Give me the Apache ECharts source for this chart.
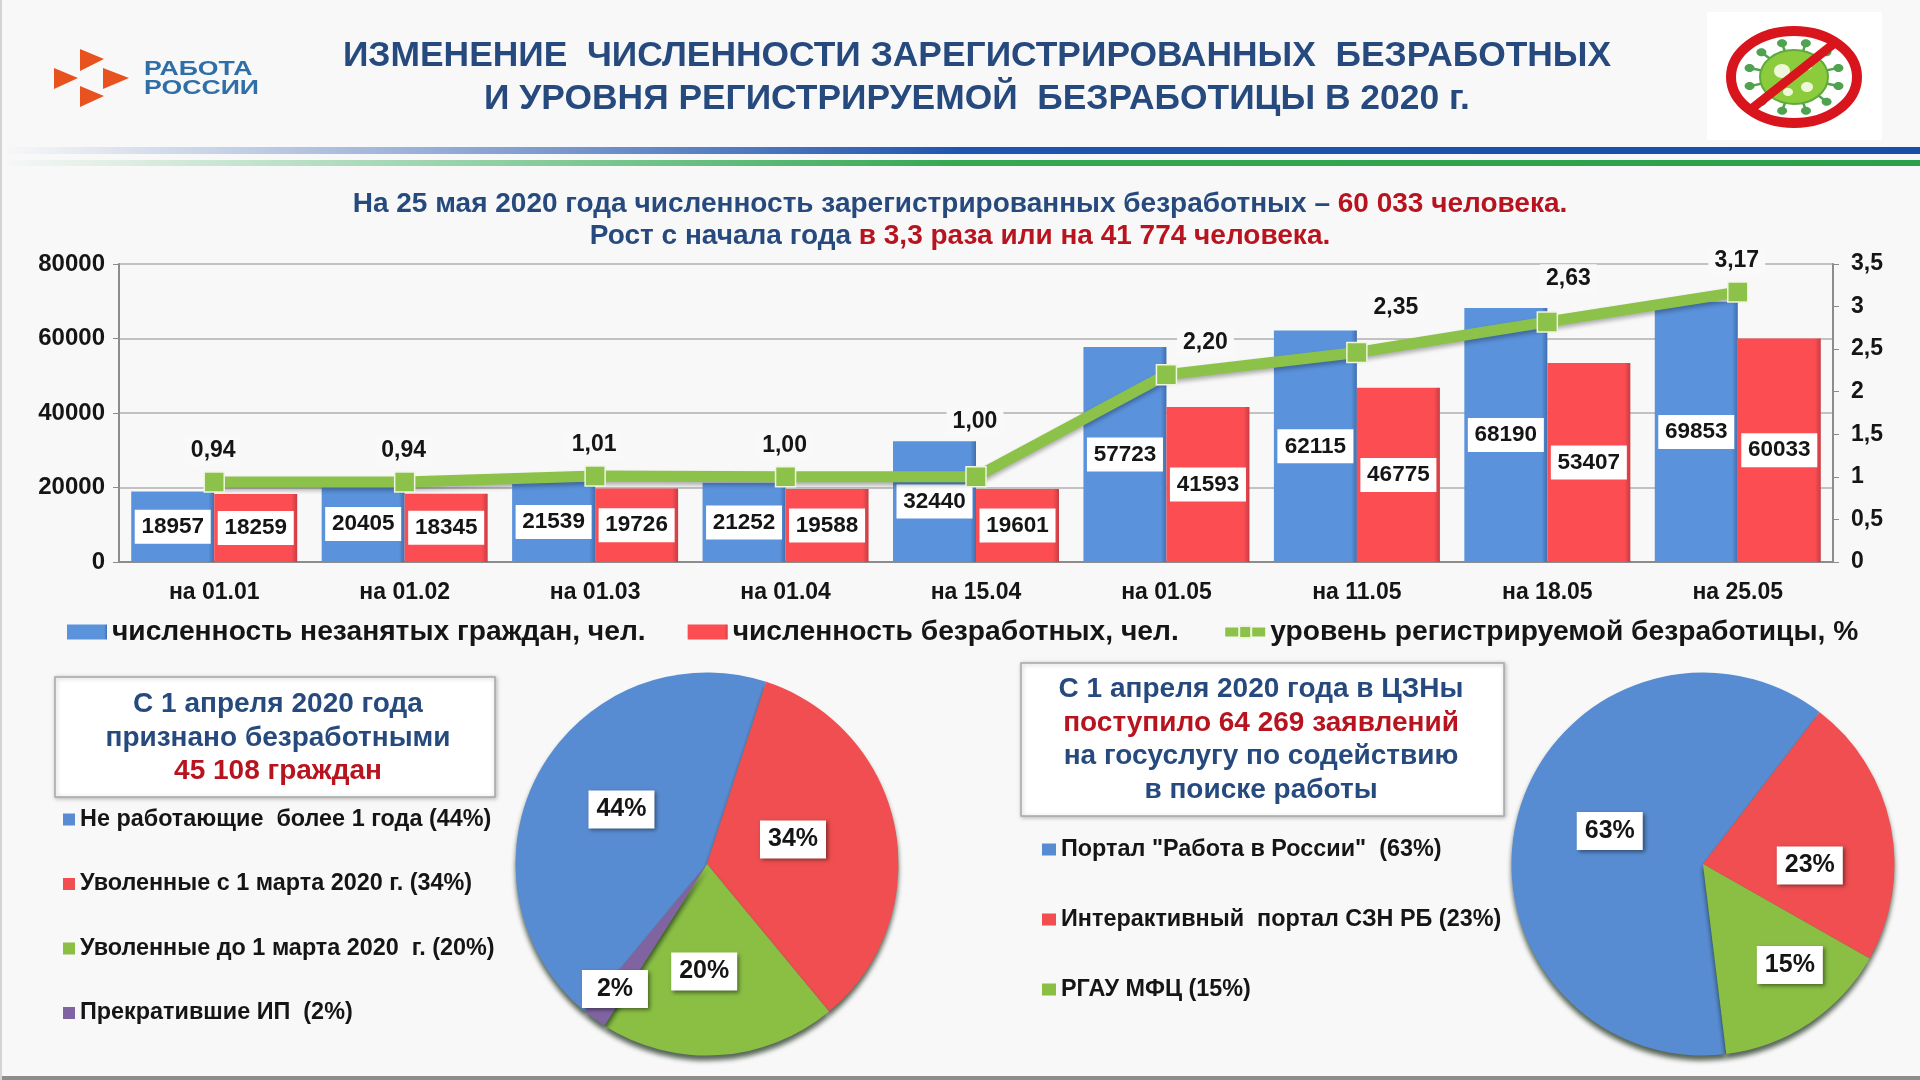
<!DOCTYPE html>
<html><head><meta charset="utf-8">
<style>html,body{margin:0;padding:0;background:#f8f8f8}#c{width:1920px;height:1080px}</style>
<script src="https://cdn.jsdelivr.net/npm/echarts@6/dist/echarts.min.js"></script>
</head><body><div id="c"></div>
<script>
const categories = ['на 01.01','на 01.02','на 01.03','на 01.04','на 15.04','на 01.05','на 11.05','на 18.05','на 25.05'];
const idleCitizens = [18957,20405,21539,21252,32440,57723,62115,68190,69853];
const unemployed = [18259,18345,19726,19588,19601,41593,46775,53407,60033];
const ratePlotted = [0.94,0.94,1.01,1.00,1.00,2.20,2.46,2.82,3.17];
const rateLabels = ['0,94','0,94','1,01','1,00','1,00','2,20','2,35','2,63','3,17'];
const seriesNames = ['численность незанятых граждан, чел.','численность безработных, чел.','уровень регистрируемой безработицы, %'];
const leftTicks = [0,20000,40000,60000,80000];
const pie1Names = ['Не работающие  более 1 года (44%)','Уволенные с 1 марта 2020 г. (34%)','Уволенные до 1 марта 2020  г. (20%)','Прекратившие ИП  (2%)'];
const pie1Values = [44,34,20,2];
const pie2Names = ['Портал "Работа в России"  (63%)','Интерактивный  портал СЗН РБ (23%)','РГАУ МФЦ (15%)'];
const pie2Values = [63,23,15];

const F = '"Liberation Sans", Arial, sans-serif';
const NAVY = '#274a7e', DARKRED = '#b8141f', INK = '#151515';
const BLUE = '#5a92dc', RED = '#fb4d52', GREEN = '#8cc24a', PURPLE = '#8064a2';
const PIE_BLUE = '#588cd2', PIE_RED = '#f04e50', PIE_GREEN = '#8abf44';

const rateLabelShift = [[-1,1],[-1,1],[-1,1],[-1,1],[-1,-23],[39,0],[39,-13],[21,-11],[-1,1]];
const pie1Shift = [[1,-7],[-11,-6],[-9,9],[-34,45]];
const pie2Shift = [[2,-7],[10,21],[32,19]];

function barSeries(name, data, c, dark){
  return {type:'bar', name, data, barWidth:83, barGap:0, z:2,
    itemStyle:{color:{type:'linear',x:0,y:0,x2:1,y2:0,colorStops:[{offset:0,color:c},{offset:0.93,color:c},{offset:1,color:dark}]}},
    label:{show:true, position:'inside', color:INK, fontFamily:F, fontSize:22.5, fontWeight:'bold', backgroundColor:'#fff',
      width:76, height:34, lineHeight:34, align:'center', verticalAlign:'middle'}};
}
function pieSeries(names, values, colors, center, radius, startAngle, shift){
  return {type:'pie', radius, center, startAngle, clockwise:true, silent:true, z:3,
    data:names.map((n,i)=>({name:n,value:values[i],itemStyle:{color:colors[i]}})),
    itemStyle:{shadowBlur:5, shadowOffsetY:5, shadowColor:'rgba(15,35,15,.7)'},
    label:{show:true, position:'inside', formatter:p=>values[p.dataIndex]+'%', color:INK, fontFamily:F, fontSize:25, fontWeight:'bold',
      backgroundColor:'#fff', width:66, height:38, lineHeight:38, align:'center', verticalAlign:'middle',
      shadowBlur:4, shadowOffsetX:2, shadowOffsetY:2, shadowColor:'rgba(0,0,0,.45)'},
    labelLayout:p=>({dx:shift[p.dataIndex][0], dy:shift[p.dataIndex][1]}),
    labelLine:{show:false}, emphasis:{disabled:true}};
}
function textBlock(left, top, text, rich){
  return {left, top, textAlign:'center', text, textStyle:{rich}};
}
const headRich = {a:{fontFamily:F,fontWeight:'bold',fontSize:35.4,color:NAVY,lineHeight:43}};
const subRich = {a:{fontFamily:F,fontWeight:'bold',fontSize:28,color:NAVY,lineHeight:32},
                 b:{fontFamily:F,fontWeight:'bold',fontSize:28,color:DARKRED,lineHeight:32}};
const boxRich = {a:{fontFamily:F,fontWeight:'bold',fontSize:28,color:NAVY,lineHeight:33.5},
                 b:{fontFamily:F,fontWeight:'bold',fontSize:28,color:DARKRED,lineHeight:33.5}};

/* decoration */
const deco = [];
deco.push({type:'rect',shape:{x:0,y:147,width:1920,height:7},style:{fill:{type:'linear',x:0,y:0,x2:1,y2:0,colorStops:[{offset:0,color:'rgba(30,80,170,0)'},{offset:0.5,color:'#1f55b0'},{offset:1,color:'#174ea6'}]}}});
deco.push({type:'rect',shape:{x:0,y:160,width:1920,height:6},style:{fill:{type:'linear',x:0,y:0,x2:1,y2:0,colorStops:[{offset:0,color:'rgba(40,170,80,0)'},{offset:0.5,color:'#34a853'},{offset:1,color:'#2ba04c'}]}}});
deco.push({type:'rect',shape:{x:0,y:1076,width:1920,height:4},style:{fill:'#8d8d8d'}});
deco.push({type:'rect',shape:{x:0,y:0,width:2,height:1080},style:{fill:'#d4d4d4'}});
[[[80,49],[104,59],[80,71]],[[54,68],[78,78],[54,89]],[[103,68],[129,78],[103,89]],[[80,86],[104,96],[80,107]]].forEach(p=>{
  deco.push({type:'polygon',shape:{points:p},style:{fill:'#e8521f'}});
});
deco.push({type:'text',x:144,y:69,scaleX:1.27,style:{x:0,y:0,text:'РАБОТА',fill:'#2f6ea6',font:'bold 21px '+F,verticalAlign:'middle'}});
deco.push({type:'text',x:144,y:88,scaleX:1.27,style:{x:0,y:0,text:'РОССИИ',fill:'#2f6ea6',font:'bold 21px '+F,verticalAlign:'middle'}});
deco.push({type:'rect',shape:{x:1707,y:12,width:175,height:128},style:{fill:'#fff'}});
const vx=1794, vy=77;
for(let a=0;a<12;a++){
  const t=a*Math.PI/6+.26, ex=vx+Math.cos(t)*46, ey=vy+Math.sin(t)*35;
  deco.push({type:'line',shape:{x1:vx,y1:vy,x2:ex,y2:ey},style:{stroke:'#4fa24f',lineWidth:2.5}});
  deco.push({type:'ellipse',shape:{cx:ex,cy:ey,rx:5,ry:4},style:{fill:'#4fa24f'}});
}
deco.push({type:'ellipse',shape:{cx:vx,cy:vy,rx:34,ry:27},style:{fill:'#8ccc3c',stroke:'#5faa3f',lineWidth:2}});
[[-12,-6,8,7],[13,10,6,5],[-6,15,5,4],[14,-10,4,3]].forEach(s=>deco.push({type:'ellipse',shape:{cx:vx+s[0],cy:vy+s[1],rx:s[2],ry:s[3]},style:{fill:'#eef7d8'}}));
deco.push({type:'line',shape:{x1:1836,y1:42,x2:1750,y2:110},style:{stroke:'#d8141c',lineWidth:9}});
deco.push({type:'ellipse',shape:{cx:vx,cy:vy,rx:63,ry:46},style:{fill:'none',stroke:'#d8141c',lineWidth:10}});
const boxShadow = {shadowBlur:4,shadowOffsetX:1,shadowOffsetY:1,shadowColor:'rgba(0,0,0,.25)'};
deco.push({type:'rect',shape:{x:55,y:677,width:440,height:120},style:Object.assign({fill:'#fff',stroke:'#a8a8a8',lineWidth:1.5},boxShadow)});
deco.push({type:'rect',shape:{x:1021,y:663,width:483,height:153},style:Object.assign({fill:'#fff',stroke:'#a8a8a8',lineWidth:1.5},boxShadow)});

const chart = echarts.init(document.getElementById('c'), null, {renderer:'canvas',width:1920,height:1080});
chart.setOption({
  animation:false,
  backgroundColor:'#f8f8f8',
  graphic:{elements:deco.map(d=>Object.assign({silent:true,z:-1},d))},
  title:[
    textBlock(972,30,'{a|ИЗМЕНЕНИЕ  ЧИСЛЕННОСТИ ЗАРЕГИСТРИРОВАННЫХ  БЕЗРАБОТНЫХ}\n{a|И УРОВНЯ РЕГИСТРИРУЕМОЙ  БЕЗРАБОТИЦЫ В 2020 г.}',headRich),
    textBlock(955,183,'{a|На 25 мая 2020 года численность зарегистрированных безработных – }{b|60 033 человека.}\n{a|Рост с начала года }{b|в 3,3 раза или на 41 774 человека.}',subRich),
    textBlock(273,683,'{a|С 1 апреля 2020 года}\n{a|признано безработными}\n{b|45 108 граждан}',boxRich),
    textBlock(1256,668,'{a|С 1 апреля 2020 года в ЦЗНы}\n{b|поступило 64 269 заявлений}\n{a|на госуслугу по содействию}\n{a|в поиске работы}',boxRich)
  ],
  legend:[
    {left:62,top:613,itemWidth:40,itemHeight:15,itemGap:42,lineStyle:{width:9},data:[{name:seriesNames[0],icon:'rect'},{name:seriesNames[1],icon:'rect'},{name:seriesNames[2]}],
     textStyle:{fontFamily:F,fontSize:28.2,fontWeight:'bold',color:INK},selectedMode:false},
    {left:58,top:803,orient:'vertical',itemWidth:12,itemHeight:12,itemGap:41.5,icon:'rect',data:pie1Names,
     textStyle:{fontFamily:F,fontSize:23.4,fontWeight:'bold',color:INK},selectedMode:false},
    {left:1037,top:833,orient:'vertical',itemWidth:14,itemHeight:12,itemGap:47,icon:'rect',data:pie2Names,
     textStyle:{fontFamily:F,fontSize:23.4,fontWeight:'bold',color:INK},selectedMode:false}
  ],
  grid:{left:119,right:87,top:264,bottom:518},
  xAxis:{type:'category',data:categories,axisTick:{show:false},axisLine:{lineStyle:{color:'#8c8c8c',width:2}},
    axisLabel:{fontFamily:F,fontSize:23,fontWeight:'bold',color:INK,margin:19}},
  yAxis:[
    {type:'value',min:leftTicks[0],max:leftTicks[4],interval:20000,axisLine:{show:true,lineStyle:{color:'#8c8c8c',width:2}},
     axisTick:{show:true,length:6,lineStyle:{color:'#8c8c8c'}},splitLine:{lineStyle:{color:'#c2c2c2',width:2}},
     axisLabel:{fontFamily:F,fontSize:24,fontWeight:'bold',color:INK,margin:14,formatter:v=>String(v)}},
    {type:'value',min:0,max:3.5,interval:0.5,position:'right',axisLine:{show:true,lineStyle:{color:'#8c8c8c',width:2}},
     axisTick:{show:true,length:6,lineStyle:{color:'#8c8c8c'}},splitLine:{show:false},
     axisLabel:{fontFamily:F,fontSize:23,fontWeight:'bold',color:INK,margin:18,formatter:v=>String(v).replace('.',',')}}
  ],
  series:[
    barSeries(seriesNames[0],idleCitizens,BLUE,'#3f6fae'),
    barSeries(seriesNames[1],unemployed,RED,'#c83c42'),
    {type:'line',name:seriesNames[2],yAxisIndex:1,data:ratePlotted,z:5,symbol:'rect',symbolSize:20,
     lineStyle:{color:GREEN,width:11,shadowBlur:4,shadowOffsetY:3,shadowColor:'rgba(0,0,0,.3)'},
     itemStyle:{color:GREEN,borderColor:'#eef5e0',borderWidth:1.5},
     label:{show:true,position:'top',distance:7,formatter:p=>rateLabels[p.dataIndex],color:INK,fontFamily:F,fontSize:23,fontWeight:'bold',
       backgroundColor:'#f9f9f9',padding:[3,6]},
     labelLayout:p=>({dx:rateLabelShift[p.dataIndex][0],dy:rateLabelShift[p.dataIndex][1]})},
    pieSeries(pie1Names,pie1Values,[PIE_BLUE,PIE_RED,PIE_GREEN,PURPLE],[707,864],191.5,230.4,pie1Shift),
    pieSeries(pie2Names,pie2Values,[PIE_BLUE,PIE_RED,PIE_GREEN],[1703,864],191.5,-83,pie2Shift)
  ]
});
</script></body></html>
